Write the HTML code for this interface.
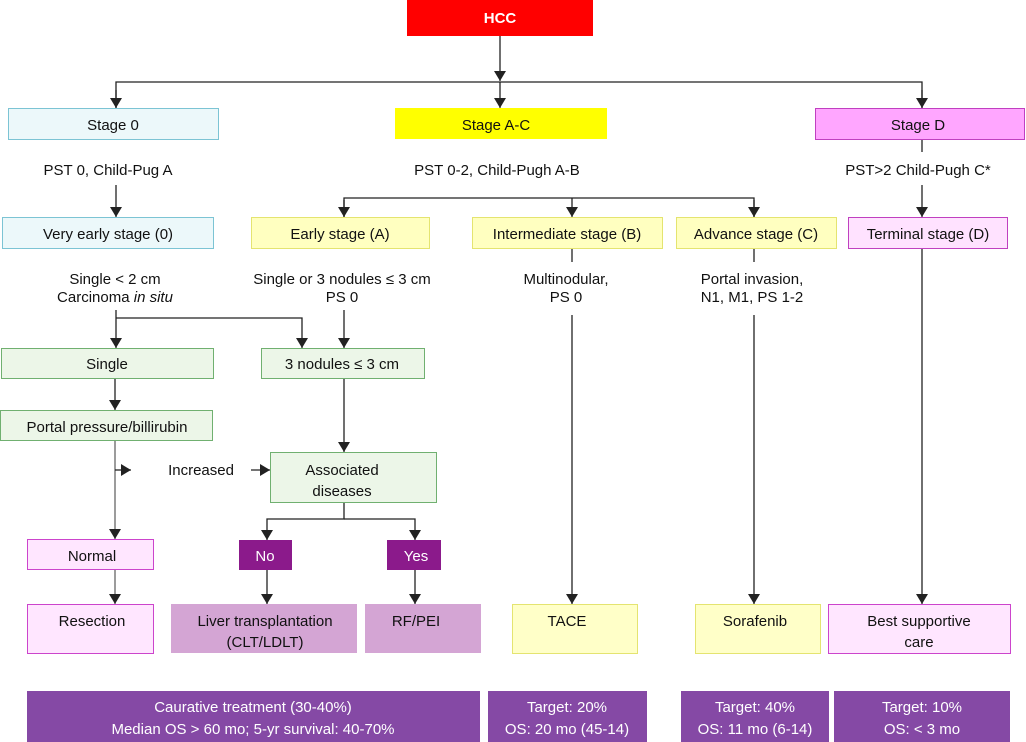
<!DOCTYPE html>
<html><head><meta charset="utf-8"><style>
body{margin:0;background:#fff;}
svg{display:block;font-family:"Liberation Sans","DejaVu Sans",sans-serif;font-size:15px;}
text{text-anchor:middle;fill:#111;}
</style></head><body>
<svg width="1026" height="742" viewBox="0 0 1026 742">
<defs>
<marker id="r" markerWidth="10" markerHeight="12" refX="10" refY="6" orient="auto" markerUnits="userSpaceOnUse" viewBox="0 0 10 12"><path d="M0,0 L10,6 L0,12 z" fill="#222"/></marker></defs>
<g stroke="#222" stroke-width="1.3" fill="none">
<line x1="500" y1="36" x2="500" y2="81" marker-end="url(#r)"/>
<polyline points="116,108 116,82 922,82 922,108" />
<line x1="116" y1="90" x2="116" y2="108" marker-end="url(#r)"/>
<line x1="500" y1="82" x2="500" y2="108" marker-end="url(#r)"/>
<line x1="922" y1="90" x2="922" y2="108" marker-end="url(#r)"/>
<line x1="922" y1="139" x2="922" y2="152"/>
<line x1="116" y1="185" x2="116" y2="217" marker-end="url(#r)"/>
<line x1="922" y1="185" x2="922" y2="217" marker-end="url(#r)"/>
<polyline points="344,217 344,198 754,198 754,217"/>
<line x1="344" y1="200" x2="344" y2="217" marker-end="url(#r)"/>
<line x1="572" y1="198" x2="572" y2="217" marker-end="url(#r)"/>
<line x1="754" y1="200" x2="754" y2="217" marker-end="url(#r)"/>
<line x1="572" y1="248" x2="572" y2="262"/>
<line x1="754" y1="248" x2="754" y2="262"/>
<line x1="116" y1="310" x2="116" y2="348" marker-end="url(#r)"/>
<polyline points="116,318 302,318 302,348" marker-end="url(#r)"/>
<line x1="344" y1="310" x2="344" y2="348" marker-end="url(#r)"/>
<line x1="115" y1="378" x2="115" y2="410" marker-end="url(#r)"/>
<line x1="115" y1="440" x2="115" y2="539" marker-end="url(#r)" stroke="#666"/>
<line x1="115" y1="470" x2="131" y2="470" marker-end="url(#r)"/>
<line x1="251" y1="470" x2="270" y2="470" marker-end="url(#r)"/>
<line x1="344" y1="378" x2="344" y2="452" marker-end="url(#r)"/>
<polyline points="344,502 344,519 267,519 267,540" marker-end="url(#r)"/>
<polyline points="344,519 415,519 415,540" marker-end="url(#r)"/>
<line x1="115" y1="569" x2="115" y2="604" marker-end="url(#r)" stroke="#666"/>
<line x1="267" y1="570" x2="267" y2="604" marker-end="url(#r)"/>
<line x1="415" y1="570" x2="415" y2="604" marker-end="url(#r)"/>
<line x1="572" y1="315" x2="572" y2="604" marker-end="url(#r)"/>
<line x1="754" y1="315" x2="754" y2="604" marker-end="url(#r)"/>
<line x1="922" y1="248" x2="922" y2="604" marker-end="url(#r)"/>
</g>
<rect x="407" y="0" width="186" height="36" fill="#ff0000"/>
<text x="500" y="23" style="fill:#fff;font-weight:bold">HCC</text>
<rect x="8.5" y="108.5" width="210" height="31" fill="#ecf8fa" stroke="#7cc4d4"/>
<text x="113" y="130">Stage 0</text>
<rect x="395" y="108" width="212" height="31" fill="#ffff00"/>
<text x="496" y="130">Stage A-C</text>
<rect x="815.5" y="108.5" width="209" height="31" fill="#ffa6ff" stroke="#c040c0"/>
<text x="918" y="130">Stage D</text>
<text x="108" y="175">PST 0, Child-Pug A</text>
<text x="497" y="175">PST 0-2, Child-Pugh A-B</text>
<text x="918" y="175">PST&gt;2 Child-Pugh C*</text>
<rect x="2.5" y="217.5" width="211" height="31" fill="#ecf8fa" stroke="#7cc4d4"/>
<text x="108" y="239">Very early stage (0)</text>
<rect x="251.5" y="217.5" width="178" height="31" fill="#ffffc0" stroke="#e4e470"/>
<text x="340" y="239">Early stage (A)</text>
<rect x="472.5" y="217.5" width="190" height="31" fill="#ffffc0" stroke="#e4e470"/>
<text x="567" y="239">Intermediate stage (B)</text>
<rect x="676.5" y="217.5" width="160" height="31" fill="#ffffc0" stroke="#e4e470"/>
<text x="756" y="239">Advance stage (C)</text>
<rect x="848.5" y="217.5" width="159" height="31" fill="#ffe2ff" stroke="#c040c0"/>
<text x="928" y="239">Terminal stage (D)</text>
<text x="115" y="284">Single &lt; 2 cm</text>
<text x="115" y="302">Carcinoma <tspan font-style="italic">in situ</tspan></text>
<text x="342" y="284">Single or 3 nodules ≤ 3 cm</text>
<text x="342" y="302">PS 0</text>
<text x="566" y="284">Multinodular,</text>
<text x="566" y="302">PS 0</text>
<text x="752" y="284">Portal invasion,</text>
<text x="752" y="302">N1, M1, PS 1-2</text>
<rect x="1.5" y="348.5" width="212" height="30" fill="#ecf6e8" stroke="#70b070"/>
<text x="107" y="369">Single</text>
<rect x="261.5" y="348.5" width="163" height="30" fill="#ecf6e8" stroke="#70b070"/>
<text x="342" y="369">3 nodules ≤ 3 cm</text>
<rect x="0.5" y="410.5" width="212" height="30" fill="#ecf6e8" stroke="#70b070"/>
<text x="107" y="432">Portal pressure/billirubin</text>
<text x="201" y="475">Increased</text>
<rect x="270.5" y="452.5" width="166" height="50" fill="#ecf6e8" stroke="#70b070"/>
<text x="342" y="475">Associated</text>
<text x="342" y="496">diseases</text>
<rect x="27.5" y="539.5" width="126" height="30" fill="#ffe6ff" stroke="#cc44cc"/>
<text x="92" y="561">Normal</text>
<rect x="239" y="540" width="53" height="30" fill="#8b1a8b"/>
<text x="265" y="561" style="fill:#fff">No</text>
<rect x="387" y="540" width="54" height="30" fill="#8b1a8b"/>
<text x="416" y="561" style="fill:#fff">Yes</text>
<rect x="27.5" y="604.5" width="126" height="49" fill="#ffe6ff" stroke="#cc44cc"/>
<text x="92" y="626">Resection</text>
<rect x="171" y="604" width="186" height="49" fill="#d4a5d4"/>
<text x="265" y="626">Liver transplantation</text>
<text x="265" y="647">(CLT/LDLT)</text>
<rect x="365" y="604" width="116" height="49" fill="#d4a5d4"/>
<text x="416" y="626">RF/PEI</text>
<rect x="512.5" y="604.5" width="125" height="49" fill="#ffffc8" stroke="#e4e470"/>
<text x="567" y="626">TACE</text>
<rect x="695.5" y="604.5" width="125" height="49" fill="#ffffc8" stroke="#e4e470"/>
<text x="755" y="626">Sorafenib</text>
<rect x="828.5" y="604.5" width="182" height="49" fill="#ffe6ff" stroke="#cc44cc"/>
<text x="919" y="626">Best supportive</text>
<text x="919" y="647">care</text>
<g fill="#8549a5">
<rect x="27" y="691" width="453" height="51"/>
<rect x="488" y="691" width="159" height="51"/>
<rect x="681" y="691" width="148" height="51"/>
<rect x="834" y="691" width="176" height="51"/>
</g>
<text x="253" y="712" style="fill:#fff">Caurative treatment (30-40%)</text>
<text x="253" y="734" style="fill:#fff">Median OS &gt; 60 mo; 5-yr survival: 40-70%</text>
<text x="567" y="712" style="fill:#fff">Target: 20%</text>
<text x="567" y="734" style="fill:#fff">OS: 20 mo (45-14)</text>
<text x="755" y="712" style="fill:#fff">Target: 40%</text>
<text x="755" y="734" style="fill:#fff">OS: 11 mo (6-14)</text>
<text x="922" y="712" style="fill:#fff">Target: 10%</text>
<text x="922" y="734" style="fill:#fff">OS: &lt; 3 mo</text>
</svg>
</body></html>
